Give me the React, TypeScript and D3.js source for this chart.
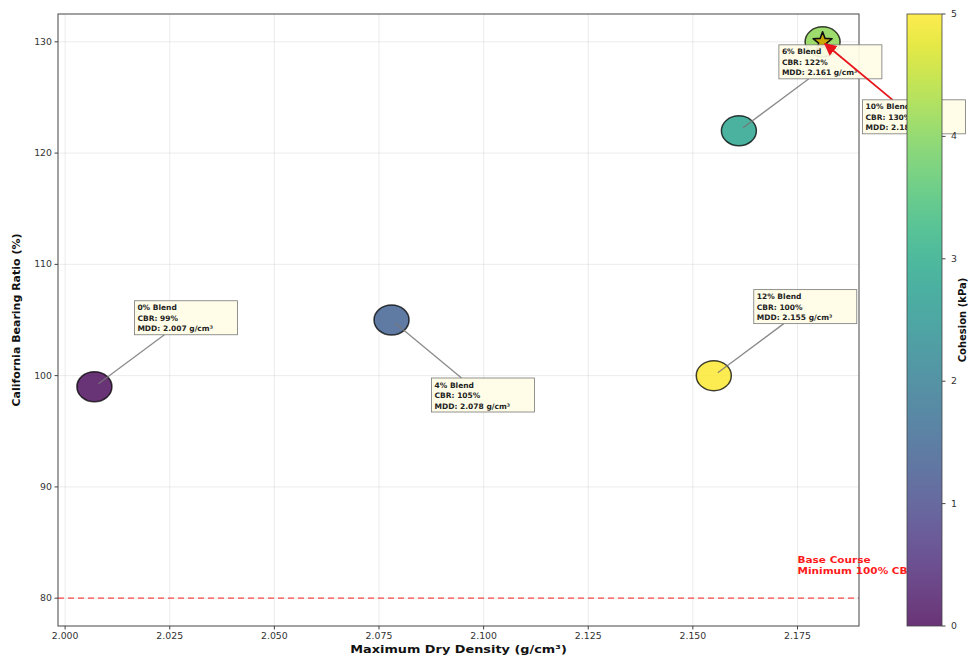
import React from "react";
import * as d3 from "d3";

// Blend properties
const blends = ["0% Blend", "4% Blend", "6% Blend", "10% Blend", "12% Blend"];
const mdd = [2.007, 2.078, 2.161, 2.181, 2.155];
const cbr = [99, 105, 122, 130, 100];
const cohesion = [0.0, 1.4, 2.8, 4.1, 5.0];
const optimalIndex = 3;

// Axis ticks
const xTicks = [2.0, 2.025, 2.05, 2.075, 2.1, 2.125, 2.15, 2.175];
const yTicks = [80, 90, 100, 110, 120, 130];
const cbTicks = [0, 1, 2, 3, 4, 5];
const baseCourseCbr = 80;

const W = 972;
const H = 657;
const plot = { left: 58, right: 859, top: 14, bottom: 626 };
const cbar = { left: 907, right: 942, top: 14, bottom: 626 };
const font = "'DejaVu Sans', Arial, sans-serif";
const sx = 1.17; // horizontal text stretch

const x = d3.scaleLinear().domain([1.9983, 2.1897]).range([plot.left, plot.right]);
const y = d3.scaleLinear().domain([77.5, 132.5]).range([plot.bottom, plot.top]);
const cScale = d3.scaleLinear().domain([0, 5]).range([cbar.bottom, cbar.top]);
const color = (v: number) => d3.interpolateViridis(v / 5);

// label placement per point: above or below the marker
const placement = ["above", "below", "above", "below", "above"];

function starPath(cx: number, cy: number, rOuter: number, rInner: number) {
  const pts: string[] = [];
  for (let i = 0; i < 10; i++) {
    const r = i % 2 === 0 ? rOuter : rInner;
    const a = -Math.PI / 2 + (i * Math.PI) / 5;
    pts.push(`${cx + r * Math.cos(a)},${cy + r * Math.sin(a)}`);
  }
  return `M${pts.join("L")}Z`;
}

export default function App() {
  const boxW = 103;
  const boxH = 34;
  const gradStops = d3.range(0, 1.0001, 0.05);

  const labels = blends.map((name, i) => {
    const px = x(mdd[i]);
    const py = y(cbr[i]);
    const above = placement[i] === "above";
    const bx = px + 40;
    const by = above ? py - 86 : py + 58;
    const ax = bx + 30;
    const ay = above ? by + boxH : by;
    const dx = ax - px;
    const dy = ay - py;
    const len = Math.hypot(dx, dy);
    const qx = px + (dx / len) * 5;
    const qy = py + (dy / len) * 5;
    return { name, i, px, py, bx, by, ax, ay, qx, qy };
  });

  return (
    <svg
      width={W}
      height={H}
      style={{ position: "absolute", left: 0, top: 0, background: "#fff" }}
      fontFamily={font}
    >
      <defs>
        <linearGradient id="viridis" x1="0" y1="1" x2="0" y2="0">
          {gradStops.map((t) => (
            <stop key={t} offset={`${t * 100}%`} stopColor={d3.interpolateViridis(t)} />
          ))}
        </linearGradient>
        <marker id="redHead" viewBox="0 0 10 10" refX="9" refY="5" markerWidth="7" markerHeight="7" orient="auto">
          <path d="M0,0L10,5L0,10Z" fill="#e8141c" />
        </marker>
      </defs>

      {/* grid */}
      <g stroke="#b0b0b0" strokeOpacity={0.3} strokeWidth={0.8}>
        {xTicks.map((t) => (
          <line key={`gx${t}`} x1={x(t)} x2={x(t)} y1={plot.top} y2={plot.bottom} />
        ))}
        {yTicks.map((t) => (
          <line key={`gy${t}`} x1={plot.left} x2={plot.right} y1={y(t)} y2={y(t)} />
        ))}
      </g>

      {/* base course reference */}
      <line
        x1={plot.left}
        x2={plot.right}
        y1={y(baseCourseCbr)}
        y2={y(baseCourseCbr)}
        stroke="#ff0000"
        strokeOpacity={0.7}
        strokeWidth={1.3}
        strokeDasharray="6,4"
      />

      {/* axes frame */}
      <rect
        x={plot.left}
        y={plot.top}
        width={plot.right - plot.left}
        height={plot.bottom - plot.top}
        fill="none"
        stroke="#444"
        strokeWidth={1}
      />

      {/* x ticks */}
      <g fontSize={8} fill="#333" textAnchor="middle">
        {xTicks.map((t) => (
          <g key={`xt${t}`}>
            <line x1={x(t)} x2={x(t)} y1={plot.bottom} y2={plot.bottom + 3.5} stroke="#444" />
            <text transform={`translate(${x(t)},${plot.bottom + 13}) scale(${sx},1)`}>
              {d3.format(".3f")(t)}
            </text>
          </g>
        ))}
      </g>
      {/* y ticks */}
      <g fontSize={8} fill="#333" textAnchor="end">
        {yTicks.map((t) => (
          <g key={`yt${t}`}>
            <line x1={plot.left - 3.5} x2={plot.left} y1={y(t)} y2={y(t)} stroke="#444" />
            <text transform={`translate(${plot.left - 6},${y(t) + 3}) scale(${sx},1)`}>{t}</text>
          </g>
        ))}
      </g>

      <text
        transform={`translate(${(plot.left + plot.right) / 2},653) scale(${sx},1)`}
        fontSize={11}
        fontWeight="bold"
        textAnchor="middle"
        fill="#111"
      >
        Maximum Dry Density (g/cm³)
      </text>
      <text
        transform={`translate(20,${(plot.top + plot.bottom) / 2}) rotate(-90)`}
        fontSize={11}
        fontWeight="bold"
        textAnchor="middle"
        fill="#111"
      >
        California Bearing Ratio (%)
      </text>

      <g fontSize={9} fontWeight="bold" fill="#ff1a1a">
        <text transform={`translate(${x(2.175)},${y(baseCourseCbr + 2) - 13}) scale(${sx},1)`}>Base Course</text>
        <text transform={`translate(${x(2.175)},${y(baseCourseCbr + 2) - 2}) scale(${sx},1)`}>Minimum 100% CBR</text>
      </g>

      {/* blend markers */}
      <g>
        {blends.map((b, i) => (
          <ellipse
            key={b}
            cx={x(mdd[i])}
            cy={y(cbr[i])}
            rx={17.5}
            ry={15}
            fill={color(cohesion[i])}
            fillOpacity={0.8}
            stroke="#000"
            strokeOpacity={0.75}
            strokeWidth={1.5}
          />
        ))}
      </g>

      {/* optimal blend star */}
      <path
        d={starPath(x(mdd[optimalIndex]), y(cbr[optimalIndex]), 10, 4.2)}
        fill="#c9a800"
        stroke="#111"
        strokeWidth={1.6}
        strokeLinejoin="round"
      />

      {/* annotations */}
      {labels.map((l) => {
        const isOpt = l.i === optimalIndex;
        return (
          <g key={`lab${l.i}`}>
            {isOpt ? (
              <line
                x1={l.ax}
                y1={l.ay}
                x2={l.px + (l.qx - l.px) * 0.6}
                y2={l.py + (l.qy - l.py) * 0.6}
                stroke="#e8141c"
                strokeWidth={1.8}
                markerEnd="url(#redHead)"
              />
            ) : (
              <line
                x1={l.qx}
                y1={l.qy}
                x2={l.ax}
                y2={l.ay}
                stroke="#777"
                strokeOpacity={0.85}
                strokeWidth={1.3}
              />
            )}
            <rect
              x={l.bx}
              y={l.by}
              width={boxW}
              height={boxH}
              fill="#fffde6"
              fillOpacity={0.92}
              stroke="#777"
              strokeWidth={0.8}
            />
            <g fontSize={7.5} fontWeight="bold" fill="#222">
              <text x={l.bx + 3} y={l.by + 9.5}>{l.name}</text>
              <text x={l.bx + 3} y={l.by + 20}>{`CBR: ${cbr[l.i]}%`}</text>
              <text x={l.bx + 3} y={l.by + 30.5}>{`MDD: ${d3.format(".3f")(mdd[l.i])} g/cm³`}</text>
            </g>
          </g>
        );
      })}

      {/* colorbar */}
      <rect
        x={cbar.left}
        y={cbar.top}
        width={cbar.right - cbar.left}
        height={cbar.bottom - cbar.top}
        fill="#fff"
      />
      <rect
        x={cbar.left}
        y={cbar.top}
        width={cbar.right - cbar.left}
        height={cbar.bottom - cbar.top}
        fill="url(#viridis)"
        fillOpacity={0.8}
        stroke="#444"
        strokeWidth={0.8}
      />
      <g fontSize={8} fill="#333">
        {cbTicks.map((t) => (
          <g key={`cb${t}`}>
            <line x1={cbar.right} x2={cbar.right + 3.5} y1={cScale(t)} y2={cScale(t)} stroke="#444" />
            <text transform={`translate(${cbar.right + 9},${cScale(t) + 3}) scale(${sx},1)`}>{t}</text>
          </g>
        ))}
      </g>
      <text
        transform={`translate(966,${(cbar.top + cbar.bottom) / 2}) rotate(-90)`}
        fontSize={10}
        fontWeight="bold"
        textAnchor="middle"
        fill="#111"
      >
        Cohesion (kPa)
      </text>
    </svg>
  );
}
